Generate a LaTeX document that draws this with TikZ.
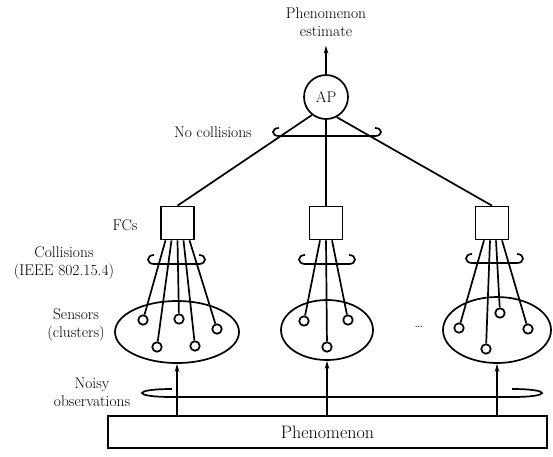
\documentclass[tikz,border=0pt]{standalone}
\usepackage{tikz}
\usetikzlibrary{positioning, arrows.meta, calc, shapes.geometric}

% band drawn across a bundle of links: left end, right end, y, curl depth, curl height
\newcommand{\linkband}[5]{%
  \draw (#1,{#3-#5}) .. controls ({#1-4/3*#4},{#3-#5}) and ({#1-4/3*#4},#3) .. (#1,#3)
    -- (#2,#3) .. controls ({#2+4/3*#4},#3) and ({#2+4/3*#4},{#3-#5}) .. (#2,{#3-#5});
}

\begin{document}
\begin{tikzpicture}[x=1pt,y=-1pt,line width=1.7pt,>={Stealth[length=8pt,width=4.5pt]}]
\tikzstyle{every node}=[font=\fontsize{15.5}{18}\selectfont]
\tikzstyle{fc}=[draw,rectangle,minimum size=33pt,inner sep=0pt]
\tikzstyle{sensor}=[draw,circle,minimum size=9.5pt,inner sep=0pt]
\tikzstyle{cluster}=[draw,ellipse,inner sep=0pt]
\tikzstyle{lbl}=[align=center]
\useasboundingbox (0,0) rectangle (553,456);

\node[lbl] (est) at (326,22) {Phenomenon\\estimate};
\node[draw,circle,minimum size=44pt,inner sep=0pt] (AP) at (326,97) {AP};
\node[fc] (fc1) at (177.5,223) {};
\node[fc] (fc2) at (326,223) {};
\node[fc] (fc3) at (492,223) {};

\node[cluster,minimum width=124pt,minimum height=62pt] (cl1) at (177,332) {};
\node[cluster,minimum width=92pt,minimum height=60pt] (cl2) at (327,330) {};
\node[cluster,minimum width=108pt,minimum height=66pt] (cl3) at (497,330) {};

\node[sensor] (s11) at (143,320) {};
\node[sensor] (s12) at (157,347) {};
\node[sensor] (s13) at (179,319) {};
\node[sensor] (s14) at (195,346) {};
\node[sensor] (s15) at (217,329) {};
\node[sensor] (s21) at (304,321) {};
\node[sensor] (s22) at (327,347) {};
\node[sensor] (s23) at (348,320) {};
\node[sensor] (s31) at (459,328) {};
\node[sensor] (s32) at (486,349) {};
\node[sensor] (s33) at (500,313) {};
\node[sensor] (s34) at (528,329) {};

\node[draw,minimum width=439pt,minimum height=32pt,inner sep=0pt,font=\fontsize{18}{21}\selectfont] (phen) at (327.5,432) {Phenomenon};

\node (nocol) at (213,132) {No collisions};
\node (fcs) at (125,225) {FCs};
\node[lbl] (col) at (64,263) {Collisions\\(IEEE 802.15.4)};
\node[lbl] (sens) at (76,325) {Sensors\\(clusters)};
\node[lbl] (noisy) at (92,392) {Noisy\\observations};
\node (dots) at (419,327) {\dots};

% AP to FCs
\draw[->,shorten >=5pt] (AP) -- (est);
\draw (AP.-128) -- (fc1.north);
\draw (AP) -- (fc2);
\draw (AP.-62) -- (fc3.north);

% FCs to sensors
\foreach \dx/\s in {-12/s11,-6/s12,0/s13,6/s14,12/s15}
  \draw ($(fc1.south)+(\dx,0)$) -- (\s);
\foreach \dx/\s in {-6/s21,0/s22,6/s23}
  \draw ($(fc2.south)+(\dx,0)$) -- (\s);
\foreach \dx/\s in {-8/s31,-2/s32,4/s33,10/s34}
  \draw ($(fc3.south)+(\dx,0)$) -- (\s);

% observations
\foreach \c in {cl1,cl2,cl3}
  \draw[->] (\c.south |- phen.north) -- (\c.south);

\linkband{279}{375}{136}{6}{8}
\linkband{154}{199}{264}{6}{9}
\linkband{305}{349}{264}{6}{9}
\linkband{472}{517}{263}{6}{9}
\linkband{172}{512}{397}{30}{8}
\end{tikzpicture}
\end{document}
